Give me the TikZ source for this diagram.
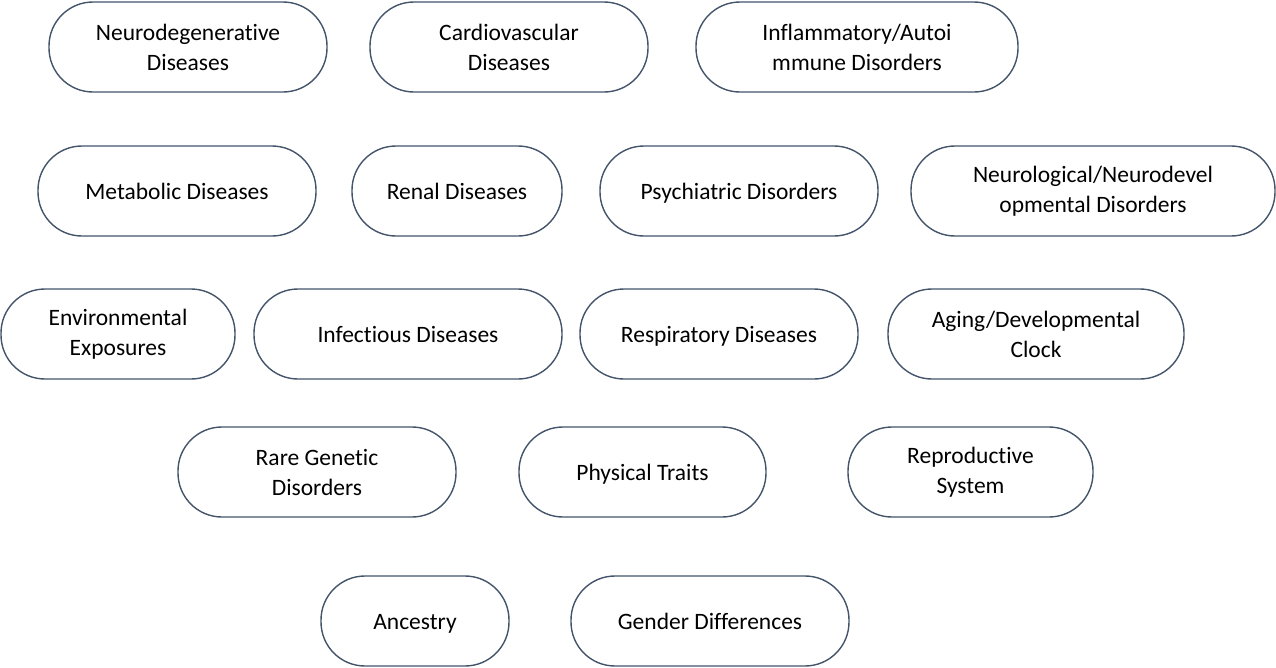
\documentclass[tikz,border=0pt]{standalone}
\usepackage{fontspec}
\setmainfont{Carlito}[Ligatures=NoCommon]
\definecolor{pillline}{HTML}{44546A}

\begin{document}
\begin{tikzpicture}[x=1pt,y=-1pt,
  pill/.style={draw=pillline, line width=1.4pt, rounded corners=44pt,
    minimum height=90pt, inner sep=0pt, align=center,
    font=\fontsize{23.5}{30}\selectfont},
  oneline/.style={text height=21pt, text depth=4pt}]
\useasboundingbox (0,0) rectangle (1276,667);
% row 1
\node [pill, minimum width=278pt] (neurodeg) at (188,47) {Neurodegenerative\\Diseases};
\node [pill, minimum width=278pt] (cardio) at (509,47) {Cardiovascular\\Diseases};
\node [pill, minimum width=322pt] (inflam) at (857,47) {Inflammatory/Autoi\\mmune Disorders};
% row 2
\node [pill, oneline, minimum width=278pt] (metab) at (177,191) {Metabolic Diseases};
\node [pill, oneline, minimum width=210pt] (renal) at (457,191) {Renal Diseases};
\node [pill, oneline, minimum width=278pt] (psych) at (739,191) {Psychiatric Disorders};
\node [pill, minimum width=364pt] (neurol) at (1093,191) {Neurological/Neurodevel\\opmental Disorders};
% row 3
\node [pill, minimum width=234pt] (environ) at (118,334) {Environmental\\Exposures};
\node [pill, oneline, minimum width=308pt] (infect) at (408,334) {Infectious Diseases};
\node [pill, oneline, minimum width=278pt] (resp) at (719,334) {Respiratory Diseases};
\node [pill, minimum width=296pt] (aging) at (1036,334) {Aging/Developmental\\Clock};
% row 4
\node [pill, minimum width=278pt] (raregen) at (317,472) {Rare Genetic\\Disorders};
\node [pill, oneline, minimum width=247pt] (physical) at (642.5,472) {Physical Traits};
\node [pill, minimum width=245pt] (repro) at (970.5,472) {Reproductive\\System};
% row 5
\node [pill, oneline, minimum width=188pt] (ancestry) at (415,621) {Ancestry};
\node [pill, oneline, minimum width=278pt] (gender) at (710,621) {Gender Differences};
\end{tikzpicture}
\end{document}
